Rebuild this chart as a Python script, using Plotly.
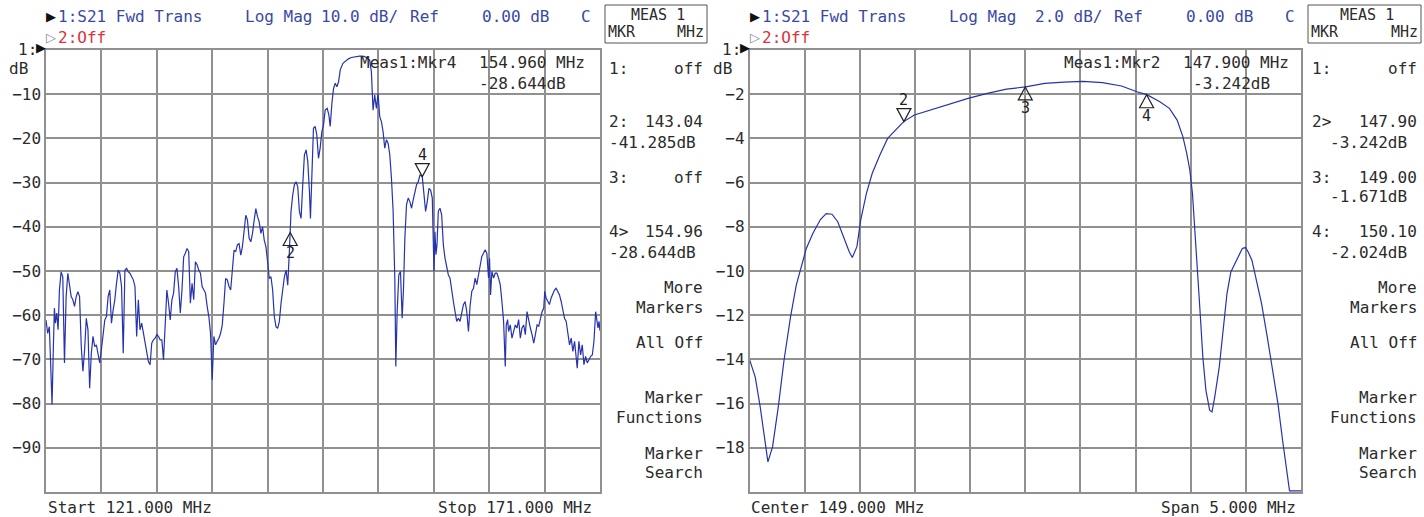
import plotly.graph_objects as go

W, H = 1424, 517
FONT = "DejaVu Sans Mono"
SYMFONT = "DejaVu Sans"
TRACE = "#2633ad"
HDR = "#3b48a6"
RED = "#e0303a"
TXT = "#2b2b2b"
GRID = "#909090"

# ---------------- data: left screen (Start 121 MHz / Stop 171 MHz, 10 dB/div) ----------------
left_freq = [
    121.000, 121.152, 121.303, 121.455, 121.545, 121.667, 121.758, 121.848, 121.970, 122.091,
    122.212, 122.364, 122.515, 122.667, 122.818, 122.970, 123.121, 123.273, 123.424, 123.576,
    123.727, 123.879, 124.030, 124.182, 124.333, 124.485, 124.636, 124.788, 124.939, 125.091,
    125.242, 125.394, 125.545, 125.697, 125.848, 126.000, 126.152, 126.303, 126.455, 126.606,
    126.758, 126.909, 127.061, 127.212, 127.364, 127.515, 127.667, 127.818, 127.970, 128.121,
    128.273, 128.424, 128.576, 128.727, 128.879, 129.030, 129.182, 129.333, 129.485, 129.636,
    129.788, 129.939, 130.091, 130.242, 130.394, 130.545, 130.697, 130.848, 131.000, 131.152,
    131.303, 131.455, 131.606, 131.758, 131.909, 132.061, 132.212, 132.364, 132.515, 132.667,
    132.818, 132.970, 133.121, 133.273, 133.424, 133.576, 133.727, 133.879, 134.030, 134.182,
    134.333, 134.485, 134.636, 134.788, 134.939, 135.091, 135.242, 135.394, 135.545, 135.697,
    135.848, 136.000, 136.152, 136.303, 136.455, 136.606, 136.758, 136.909, 137.061, 137.212,
    137.364, 137.515, 137.667, 137.818, 137.970, 138.121, 138.273, 138.424, 138.576, 138.727,
    138.879, 139.030, 139.182, 139.333, 139.485, 139.636, 139.788, 139.939, 140.091, 140.242,
    140.394, 140.545, 140.697, 140.848, 141.000, 141.152, 141.303, 141.455, 141.606, 141.758,
    141.909, 142.061, 142.212, 142.364, 142.515, 142.667, 142.818, 142.970,
    143.040, 143.115, 143.266, 143.417, 143.568, 143.719, 143.870, 144.021, 144.172, 144.323,
    144.474, 144.625, 144.776, 144.867, 144.988, 145.139, 145.290, 145.441, 145.592, 145.743,
    145.894, 146.045, 146.196, 146.378, 146.529, 146.650, 146.801, 146.952, 147.103, 147.254,
    147.405, 147.556, 147.798, 148.100, 148.300, 148.553, 148.800, 149.006, 149.300, 149.459,
    149.700, 149.912, 150.050, 150.215, 150.366, 150.517, 150.668, 150.819, 150.970, 151.121,
    151.272, 151.423, 151.574, 151.725, 151.876, 152.027, 152.178, 152.329, 152.480, 152.571,
    152.692, 152.843, 152.994, 153.145, 153.266, 153.387, 153.538, 153.689, 153.840, 153.991,
    154.142, 154.293, 154.444, 154.595, 154.746, 154.958, 155.109, 155.260, 155.411, 155.562,
    155.713, 155.864, 156.015, 156.106, 156.196, 156.287, 156.408, 156.559, 156.710, 156.861,
    157.012, 157.163, 157.314, 157.465, 157.616, 157.767, 157.918, 158.069, 158.220, 158.371,
    158.523, 158.674, 158.825, 158.976, 159.127, 159.278, 159.429, 159.580, 159.731, 159.882,
    160.033, 160.184, 160.335, 160.486, 160.637, 160.789, 160.940, 161.030, 161.121, 161.242,
    161.393, 161.544, 161.695, 161.846, 161.997, 162.148, 162.299, 162.450, 162.541, 162.662,
    162.752, 162.903, 163.054, 163.205, 163.356, 163.508, 163.659, 163.810, 163.961, 164.112,
    164.263, 164.414, 164.565, 164.716, 164.867, 165.018, 165.169, 165.320, 165.471, 165.622,
    165.773, 165.924, 166.015, 166.136, 166.287, 166.438, 166.589, 166.740, 166.891, 167.042,
    167.193, 167.344, 167.495, 167.647, 167.798, 167.949, 168.100, 168.251, 168.402, 168.553,
    168.705, 168.855, 168.946, 169.097, 169.248, 169.399, 169.550, 169.701, 169.852, 170.003,
    170.154, 170.305, 170.456, 170.607, 170.698, 170.819, 170.909, 171.000,
]
left_db = [
    -61.1, -64.1, -62.6, -71.6, -80.2, -67.1, -58.4, -61.8, -59.5, -63.3,
    -54.3, -50.2, -51.3, -70.8, -55.8, -50.5, -52.8, -55.8, -56.5, -58.0,
    -55.8, -54.7, -55.8, -67.1, -72.7, -67.8, -60.7, -63.3, -76.5, -68.6,
    -64.8, -67.1, -66.7, -69.3, -70.8, -67.8, -64.1, -61.1, -60.3, -55.8,
    -54.3, -61.8, -58.8, -56.5, -52.8, -49.8, -50.5, -53.5, -68.6, -49.8,
    -49.4, -50.2, -50.5, -51.3, -52.0, -53.5, -64.8, -56.5, -63.3, -61.8,
    -64.1, -66.3, -68.6, -70.5, -71.2, -66.3, -65.6, -65.2, -64.4, -64.8,
    -65.6, -65.6, -70.1, -61.8, -54.3, -57.3, -61.1, -56.5, -55.0, -50.2,
    -49.4, -53.5, -59.5, -54.3, -46.8, -46.0, -44.9, -45.6, -57.3, -52.8,
    -56.5, -47.9, -48.6, -49.8, -50.5, -53.5, -54.3, -55.0, -58.0, -60.3,
    -64.1, -74.6, -64.8, -66.7, -65.9, -65.2, -64.1, -62.2, -57.3, -51.7,
    -52.0, -53.5, -54.3, -49.4, -45.3, -45.6, -44.1, -43.8, -46.4, -44.5,
    -40.8, -37.4, -38.5, -42.6, -43.4, -41.5, -38.5, -35.9, -37.7, -38.9,
    -41.5, -40.0, -43.0, -44.5, -47.9, -51.7, -51.3, -54.3, -60.3, -62.6,
    -63.0, -61.4, -57.3, -53.5, -51.3, -49.8, -53.2, -45.3,
    -41.3, -36.5, -32.8, -30.5, -29.8, -30.9, -36.5, -38.1, -30.5, -23.7,
    -22.6, -25.2, -32.0, -38.1, -29.0, -17.7, -17.3, -19.2, -24.5, -22.2,
    -18.5, -17.0, -13.6, -13.2, -14.7, -17.3, -12.1, -8.7, -7.5, -8.3,
    -7.2, -4.5, -3.0, -2.3, -2.0, -1.7, -1.55, -1.45, -1.38, -1.4,
    -1.45, -1.7, -1.9, -2.3, -4.9, -13.6, -10.2, -13.2, -9.8, -15.1,
    -16.2, -18.5, -22.2, -20.3, -21.1, -23.7, -29.0, -36.5, -51.6, -71.6,
    -59.2, -50.9, -50.1, -60.7, -53.9, -42.6, -35.0, -33.5, -34.3, -35.8,
    -33.9, -32.0, -30.5, -29.8, -28.3, -28.6, -32.0, -36.5, -34.3, -31.3,
    -31.7, -33.5, -50.1, -41.1, -46.3, -44.1, -36.5, -35.8, -37.3, -44.1,
    -47.1, -49.4, -50.9, -51.6, -54.6, -56.9, -59.2, -61.4, -60.7, -61.4,
    -59.5, -57.6, -56.9, -59.2, -63.7, -57.8, -54.6, -53.9, -51.6, -53.1,
    -50.9, -48.6, -46.7, -46.0, -45.2, -46.0, -51.6, -47.1, -55.4, -50.1,
    -51.6, -50.5, -50.5, -51.6, -53.1, -56.9, -61.4, -71.6, -62.2, -61.0,
    -63.7, -62.2, -65.2, -63.7, -62.2, -62.9, -61.0, -65.2, -62.9, -62.2,
    -64.4, -59.2, -61.4, -62.9, -64.4, -66.3, -64.4, -62.2, -62.5, -60.7,
    -59.2, -58.4, -54.6, -56.1, -56.9, -57.6, -56.1, -55.0, -54.3, -53.9,
    -54.6, -55.4, -56.9, -59.2, -60.7, -61.4, -64.4, -66.7, -65.2, -68.2,
    -65.9, -69.7, -72.0, -65.9, -69.0, -66.7, -71.2, -69.3, -70.8, -70.1,
    -69.3, -69.0, -65.9, -59.2, -61.4, -62.9, -61.4, -63.5,
]

# ---------------- data: right screen (Center 149 MHz / Span 5 MHz, 2 dB/div) ----------------
right_freq = [
    146.500, 146.552, 146.597, 146.639, 146.667, 146.709, 146.761, 146.813, 146.872, 146.924,
    146.969, 147.015, 147.074, 147.143, 147.195, 147.248, 147.300, 147.352, 147.404, 147.432,
    147.474, 147.508, 147.560, 147.613, 147.682, 147.752, 147.821, 147.898, 147.995, 148.134,
    148.308, 148.482, 148.656, 148.830, 149.003, 149.177, 149.351, 149.525, 149.699, 149.873,
    150.012, 150.102, 150.220, 150.307, 150.377, 150.429, 150.464, 150.492, 150.516, 150.533,
    150.561, 150.586, 150.610, 150.638, 150.672, 150.693, 150.718, 150.759, 150.794, 150.829,
    150.864, 150.916, 150.968, 150.996, 151.020, 151.055, 151.090, 151.142, 151.194, 151.246,
    151.291, 151.333, 151.368, 151.396, 151.500,
]
right_db = [
    -14.00, -14.80, -16.15, -17.70, -18.64, -17.96, -16.15, -14.04, -12.08, -10.64,
    -9.80, -8.98, -8.30, -7.67, -7.40, -7.43, -7.77, -8.45, -9.13, -9.39,
    -8.90, -7.70, -6.49, -5.58, -4.75, -4.00, -3.62, -3.24, -2.94, -2.72,
    -2.45, -2.19, -1.96, -1.77, -1.67, -1.51, -1.45, -1.42, -1.48, -1.63,
    -1.89, -2.02, -2.34, -2.64, -3.17, -3.92, -4.68, -5.43, -6.49, -7.70,
    -9.66, -11.92, -13.89, -15.40, -16.30, -16.38, -15.70, -14.34, -12.68, -11.02,
    -10.04, -9.51, -8.98, -8.94, -9.13, -9.51, -10.26, -11.47, -12.98, -14.49,
    -16.00, -17.66, -19.02, -19.95, -19.95,
]

# markers (frequency MHz, level dB, label, triangle points up?)
left_mkr_freq = [143.04, 154.96]
left_mkr_db = [-41.285, -28.644]
left_mkr_lab = ["2", "4"]
left_mkr_up = [True, False]

right_mkr_freq = [147.90, 149.00, 150.10]
right_mkr_db = [-3.242, -1.671, -2.024]
right_mkr_lab = ["2", "3", "4"]
right_mkr_up = [False, True, True]

# axes scales / ticks
left_xrange = [121.0, 171.0]
left_xgrid = [126, 131, 136, 141, 146, 151, 156, 161, 166]
left_yrange = [-100, 0]
left_yticks = [-10, -20, -30, -40, -50, -60, -70, -80, -90]
left_yticktext = ["\u221210", "\u221220", "\u221230", "\u221240", "\u221250", "\u221260", "\u221270", "\u221280", "\u221290"]

right_xrange = [146.5, 151.5]
right_xgrid = [147.0, 147.5, 148.0, 148.5, 149.0, 149.5, 150.0, 150.5, 151.0]
right_yrange = [-20, 0]
right_yticks = [-2, -4, -6, -8, -10, -12, -14, -16, -18]
right_yticktext = ["\u22122", "\u22124", "\u22126", "\u22128", "\u221210", "\u221212", "\u221214", "\u221216", "\u221218"]


def px(x):
    return x / W


def py(y):
    return 1 - y / H


OFF = 703.5  # horizontal offset of the second screen's plot
PT, PB = 50, 492
L_PLOT = (46, 600)
R_PLOT = (749.5, 1301)

fig = go.Figure()
fig.add_trace(go.Scatter(x=left_freq, y=left_db, mode="lines", xaxis="x", yaxis="y",
                         line=dict(color=TRACE, width=1.2), hoverinfo="skip"))
fig.add_trace(go.Scatter(x=right_freq, y=right_db, mode="lines", xaxis="x2", yaxis="y2",
                         line=dict(color=TRACE, width=1.2), hoverinfo="skip"))

common = dict(showgrid=True, gridcolor=GRID, gridwidth=1.5, zeroline=False, showline=True,
              linecolor=GRID, linewidth=1.5, mirror=True, ticks="", fixedrange=True)
tickfont = dict(family=FONT, size=16, color=TXT)

annotations = []
shapes = []


def txt(x, y, s, anchor="left", color=TXT, size=16, family=FONT):
    annotations.append(dict(x=px(x), y=py(y), xref="paper", yref="paper", text=s,
                            showarrow=False, xanchor=anchor, yanchor="middle",
                            font=dict(family=family, size=size, color=color)))


def screen(o, side_l, side_r, scale_txt, bottom_l, bottom_r, readout_mkr, readout_f,
           readout_db, panel):
    # header
    txt(o + 44, 17, "\u25b6", color="#111", size=13, family=SYMFONT)
    txt(o + 56, 17, "1:S21 Fwd Trans", color=HDR)
    txt(o + 243, 17, "Log Mag", color=HDR)
    txt(o + 400, 17, scale_txt, anchor="right", color=HDR)
    txt(o + 408, 17, "Ref", color=HDR)
    txt(o + 480, 17, "0.00 dB", color=HDR)
    txt(o + 579, 17, "C", color=HDR)
    txt(o + 44, 37, "\u25b7", color="#888", size=13, family=SYMFONT)
    txt(o + 56, 37, "2:Off", color=RED)
    # MEAS box
    shapes.append(dict(type="rect", xref="paper", yref="paper", x0=px(side_l - 2),
                       x1=px(side_r + 2), y0=py(43), y1=py(5), line=dict(color="#555", width=1)))
    txt((side_l + side_r) / 2 + 2, 15, "MEAS 1", anchor="center", size=15)
    txt(side_l - 1, 32, "MKR", size=15)
    txt(side_r + 1, 32, "MHz", anchor="right", size=15)
    # reference marker and unit
    txt(o + 16, 49, "1:", size=16)
    txt(o + 48, 48, "\u25b6", anchor="right", size=13, color="#111", family=SYMFONT)
    txt(o + 7, 68, "dB", size=16)
    # readout
    txt(o + 358, 63, readout_mkr)
    txt(o + 587, 63, readout_f, anchor="right")
    txt(o + 568, 83, readout_db, anchor="right")
    # bottom
    txt(o + 46, 507, bottom_l)
    txt(o + 594, 507, bottom_r, anchor="right")
    # side panel
    for y, left_s, right_s in panel:
        if left_s:
            txt(side_l, y, left_s)
        if right_s:
            txt(side_r, y, right_s, anchor="right")


left_panel = [
    (68, "1:", "off"), (121, "2:", "143.04"), (142, "-41.285dB", None),
    (177, "3:", "off"), (231, "4>", "154.96"), (252, "-28.644dB", None),
    (287, None, "More"), (307, None, "Markers"), (342, None, "All Off"),
    (397, None, "Marker"), (417, None, "Functions"), (453, None, "Marker"), (472, None, "Search"),
]
right_panel = [
    (68, "1:", "off"), (121, "2>", "147.90"), (142, None, "-3.242dB "),
    (177, "3:", "149.00"), (197, None, "-1.671dB "), (231, "4:", "150.10"), (252, None, "-2.024dB "),
    (287, None, "More"), (307, None, "Markers"), (342, None, "All Off"),
    (397, None, "Marker"), (417, None, "Functions"), (453, None, "Marker"), (472, None, "Search"),
]

screen(0, 607, 705, "10.0 dB/", "Start 121.000 MHz", "Stop 171.000 MHz",
       "Meas1:Mkr4", "154.960 MHz", "-28.644dB", left_panel)
screen(OFF, 1310, 1419, "2.0 dB/", "Center 149.000 MHz", "Span 5.000 MHz",
       "Meas1:Mkr2", "147.900 MHz", "-3.242dB", right_panel)


def add_markers(xref, yref, freqs, dbs, labs, ups):
    for f, d, lab, up in zip(freqs, dbs, labs, ups):
        path = "M0,0 L-7,-13 L7,-13 Z" if up else "M0,0 L-7,13 L7,13 Z"
        shapes.append(dict(type="path", xref=xref, yref=yref, xsizemode="pixel", ysizemode="pixel",
                           xanchor=f, yanchor=d, path=path, line=dict(color="#222", width=1.2),
                           fillcolor="rgba(255,255,255,0)"))
        annotations.append(dict(x=f, y=d, xref=xref, yref=yref, text=lab, showarrow=False,
                                xanchor="center", yanchor="middle", yshift=(-21 if up else 22),
                                font=dict(family=FONT, size=15, color="#222")))


add_markers("x", "y", left_mkr_freq, left_mkr_db, left_mkr_lab, left_mkr_up)
add_markers("x2", "y2", right_mkr_freq, right_mkr_db, right_mkr_lab, right_mkr_up)

fig.update_layout(
    width=W, height=H, margin=dict(l=0, r=0, t=0, b=0),
    paper_bgcolor="white", plot_bgcolor="white", showlegend=False,
    font=dict(family=FONT, size=16, color=TXT),
    xaxis=dict(domain=[px(L_PLOT[0]), px(L_PLOT[1])], range=left_xrange, tickvals=left_xgrid,
               showticklabels=False, anchor="y", **common),
    yaxis=dict(domain=[py(PB), py(PT)], range=left_yrange, tickvals=left_yticks,
               ticktext=left_yticktext, tickfont=tickfont, anchor="x", **common),
    xaxis2=dict(domain=[px(R_PLOT[0]), px(R_PLOT[1])], range=right_xrange, tickvals=right_xgrid,
                showticklabels=False, anchor="y2", **common),
    yaxis2=dict(domain=[py(PB), py(PT)], range=right_yrange, tickvals=right_yticks,
                ticktext=right_yticktext, tickfont=tickfont, anchor="x2", **common),
    annotations=annotations, shapes=shapes,
)

fig.write_html("out.html", config={"displayModeBar": False},
               post_script="document.body.style.margin='0';document.body.style.overflow='hidden';")
